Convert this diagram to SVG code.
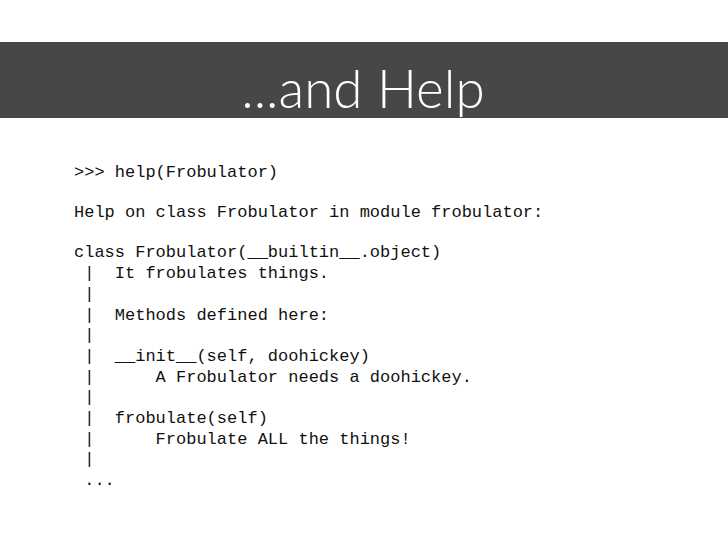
<svg xmlns="http://www.w3.org/2000/svg" width="728" height="546" viewBox="0 0 728 546">
<style>
.c{font-family:"Liberation Mono","DejaVu Sans Mono",monospace;font-size:17px;fill:#111;white-space:pre}
</style>
<rect width="728" height="546" fill="#fff"/>
<g id="header">
<rect x="0" y="42" width="728" height="76" fill="#474747"/>
<text x="363" y="108" text-anchor="middle" font-family="Lato, 'Open Sans', sans-serif" font-weight="300" font-size="53" fill="#fff">...and Help</text>
</g>
<g id="code" xml:space="preserve">
<text class="c" x="74" y="177">&gt;&gt;&gt; help(Frobulator)</text>
<text class="c" x="74" y="217">Help on class Frobulator in module frobulator:</text>
<text class="c" x="74" y="257">class Frobulator(__builtin__.object)</text>
<text class="c" x="74" y="278"> |  It frobulates things.</text>
<text class="c" x="74" y="299"> |</text>
<text class="c" x="74" y="320"> |  Methods defined here:</text>
<text class="c" x="74" y="340"> |</text>
<text class="c" x="74" y="361"> |  __init__(self, doohickey)</text>
<text class="c" x="74" y="382"> |      A Frobulator needs a doohickey.</text>
<text class="c" x="74" y="402"> |</text>
<text class="c" x="74" y="423"> |  frobulate(self)</text>
<text class="c" x="74" y="444"> |      Frobulate ALL the things!</text>
<text class="c" x="74" y="464"> |</text>
<text class="c" x="74" y="485"> ...</text>
</g>
</svg>
